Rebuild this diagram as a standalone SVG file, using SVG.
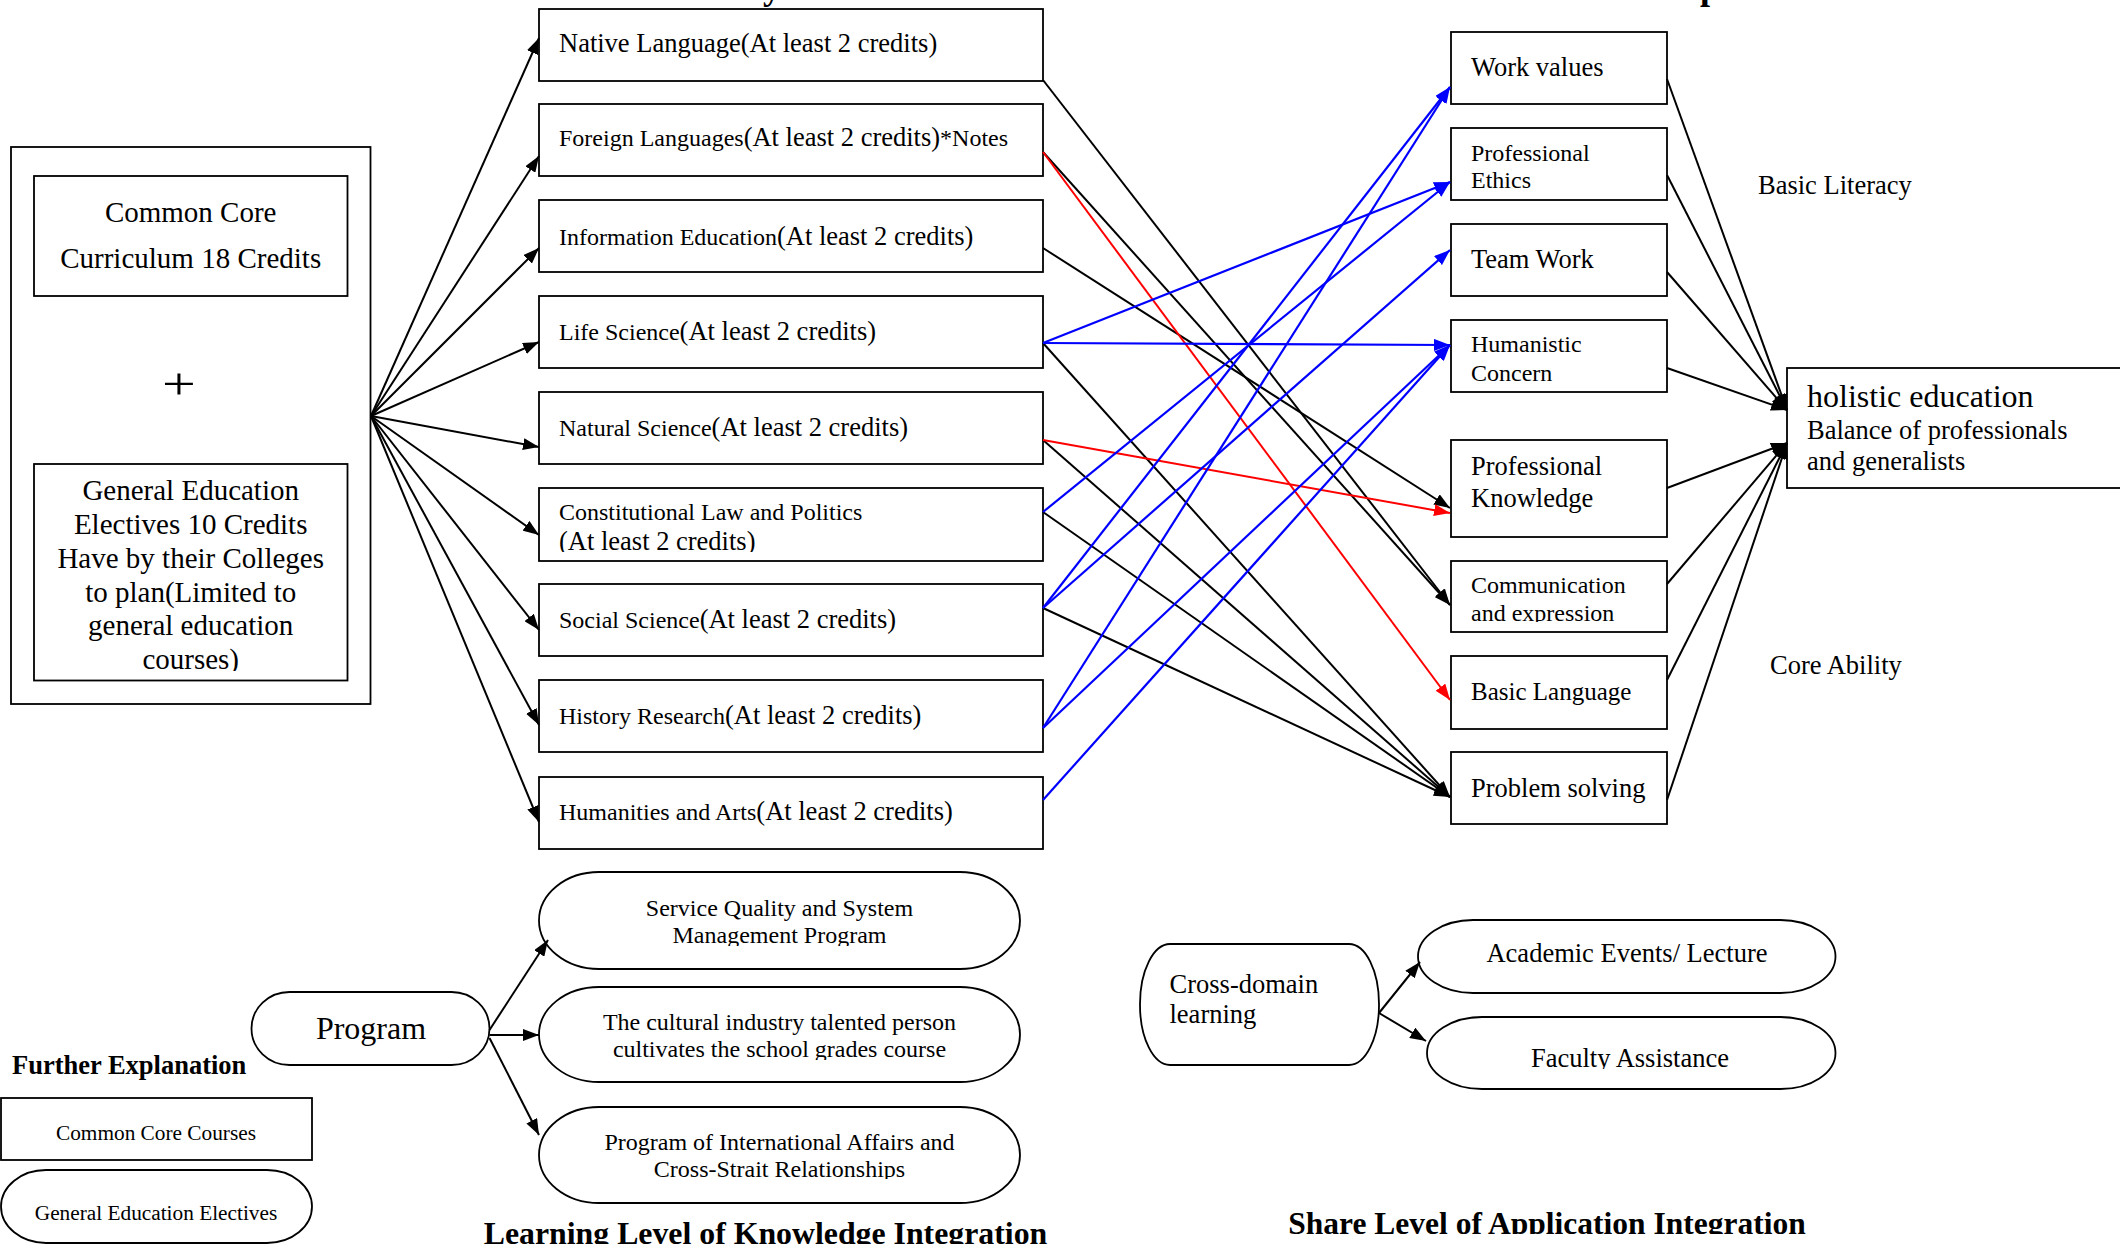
<svg xmlns="http://www.w3.org/2000/svg" width="2120" height="1244" viewBox="0 0 2120 1244">
<style>
.box{fill:#fff;stroke:#000;stroke-width:1.8}
.t{font-family:"Liberation Serif","Times New Roman",serif;fill:#000}
.b{font-weight:bold}
.s24{font-size:24px}
.s26{font-size:26.5px}
.s29{font-size:29px}
.c{text-anchor:middle}
.bk{stroke:#000;stroke-width:2;fill:none;marker-end:url(#ah)}
.bl{stroke:#0000ff;stroke-width:2.2;fill:none;marker-end:url(#ahb)}
.rd{stroke:#ff0000;stroke-width:2;fill:none;marker-end:url(#ahr)}
</style>
<defs>
<marker id="ah" markerUnits="userSpaceOnUse" markerWidth="16" markerHeight="12" refX="16" refY="6" orient="auto"><path d="M0,0 L16,6 L0,12 z" fill="#000"/></marker>
<marker id="ahb" markerUnits="userSpaceOnUse" markerWidth="16" markerHeight="12" refX="16" refY="6" orient="auto"><path d="M0,0 L16,6 L0,12 z" fill="#0000ff"/></marker>
<marker id="ahr" markerUnits="userSpaceOnUse" markerWidth="16" markerHeight="12" refX="16" refY="6" orient="auto"><path d="M0,0 L16,6 L0,12 z" fill="#ff0000"/></marker>
<clipPath id="cpConst"><rect x="540" y="488" width="503" height="64"/></clipPath>
<clipPath id="cpComm"><rect x="1452" y="561" width="214" height="61"/></clipPath>
<clipPath id="cpGen"><rect x="35" y="464" width="312" height="207"/></clipPath>
<clipPath id="cpSvc"><rect x="539" y="872" width="481" height="74"/></clipPath>
<clipPath id="cpCult"><rect x="539" y="987" width="481" height="73"/></clipPath>
<clipPath id="cpIntl"><rect x="539" y="1107" width="481" height="72"/></clipPath>
<clipPath id="cpFac"><rect x="1427" y="1017" width="408" height="52"/></clipPath>
<clipPath id="cpShare"><rect x="1200" y="1180" width="700" height="54"/></clipPath>
</defs>
<rect width="2120" height="1244" fill="#fff"/>

<g id="title-fragments">
<text class="t b" x="763" y="-1.5" font-size="36">y</text>
<text class="t b" x="1700" y="-1" font-size="36">p</text>
</g>

<g id="core-group">
<rect class="box" x="11" y="147" width="359.5" height="557"/>
<g id="common-core">
<rect class="box" x="34" y="176" width="313.5" height="120"/>
<text class="t s29 c" x="190.7" y="222">Common Core</text>
<text class="t s29 c" x="190.7" y="268">Curriculum 18 Credits</text>
</g>
<text class="t" font-size="60" transform="translate(162,399.4) scale(1,0.75)" x="0" y="0">+</text>
<g id="general-electives">
<rect class="box" x="34" y="464" width="313.5" height="216.5"/>
<g clip-path="url(#cpGen)">
<text class="t s29 c" x="190.7" y="500">General Education</text>
<text class="t s29 c" x="190.7" y="534">Electives 10 Credits</text>
<text class="t s29 c" x="190.7" y="568">Have by their Colleges</text>
<text class="t s29 c" x="190.7" y="602">to plan(Limited to</text>
<text class="t s29 c" x="190.7" y="635">general education</text>
<text class="t s29 c" x="190.7" y="669">courses)</text>
</g>
</g>
</g>

<g id="native"><rect class="box" x="539" y="9" width="504" height="72"/>
<text class="t s26" x="559" y="52">Native Language(At least 2 credits)</text></g>
<g id="foreign"><rect class="box" x="539" y="104" width="504" height="72"/>
<text class="t" x="559" y="146"><tspan class="s24">Foreign Languages</tspan><tspan class="s26">(At least 2 credits)</tspan><tspan class="s24">*Notes</tspan></text></g>
<g id="information"><rect class="box" x="539" y="200" width="504" height="72"/>
<text class="t" x="559" y="245"><tspan class="s24">Information Education</tspan><tspan class="s26">(At least 2 credits)</tspan></text></g>
<g id="life"><rect class="box" x="539" y="296" width="504" height="72"/>
<text class="t" x="559" y="340"><tspan class="s24">Life Science</tspan><tspan class="s26">(At least 2 credits)</tspan></text></g>
<g id="natural"><rect class="box" x="539" y="392" width="504" height="72"/>
<text class="t" x="559" y="436"><tspan class="s24">Natural Science</tspan><tspan class="s26">(At least 2 credits)</tspan></text></g>
<g id="constitutional"><rect class="box" x="539" y="488" width="504" height="73"/>
<g clip-path="url(#cpConst)">
<text class="t s24" x="559" y="520">Constitutional Law and Politics</text>
<text class="t s26" x="559" y="550">(At least 2 credits)</text></g></g>
<g id="social"><rect class="box" x="539" y="584" width="504" height="72"/>
<text class="t" x="559" y="628"><tspan class="s24">Social Science</tspan><tspan class="s26">(At least 2 credits)</tspan></text></g>
<g id="history"><rect class="box" x="539" y="680" width="504" height="72"/>
<text class="t" x="559" y="724"><tspan class="s24">History Research</tspan><tspan class="s26">(At least 2 credits)</tspan></text></g>
<g id="humanities"><rect class="box" x="539" y="777" width="504" height="72"/>
<text class="t" x="559" y="820"><tspan class="s24">Humanities and Arts</tspan><tspan class="s26">(At least 2 credits)</tspan></text></g>

<g id="work-values"><rect class="box" x="1451" y="32" width="216" height="72"/>
<text class="t s26" x="1471" y="76">Work values</text></g>
<g id="professional-ethics"><rect class="box" x="1451" y="128" width="216" height="72"/>
<text class="t s24" x="1471" y="161">Professional</text><text class="t s24" x="1471" y="188">Ethics</text></g>
<g id="team-work"><rect class="box" x="1451" y="224" width="216" height="72"/>
<text class="t s26" x="1471" y="268">Team Work</text></g>
<g id="humanistic"><rect class="box" x="1451" y="320" width="216" height="72"/>
<text class="t s24" x="1471" y="352">Humanistic</text><text class="t s24" x="1471" y="381">Concern</text></g>
<g id="professional-knowledge"><rect class="box" x="1451" y="440" width="216" height="97"/>
<text class="t s26" x="1471" y="475">Professional</text><text class="t s26" x="1471" y="507">Knowledge</text></g>
<g id="communication"><rect class="box" x="1451" y="561" width="216" height="71"/>
<g clip-path="url(#cpComm)"><text class="t s24" x="1471" y="593">Communication</text><text class="t s24" x="1471" y="621">and expression</text></g></g>
<g id="basic-language"><rect class="box" x="1451" y="656" width="216" height="73"/>
<text class="t" font-size="25px" x="1471" y="700">Basic Language</text></g>
<g id="problem-solving"><rect class="box" x="1451" y="752" width="216" height="72"/>
<text class="t s26" x="1471" y="797">Problem solving</text></g>

<g id="holistic"><rect class="box" x="1787" y="368" width="343" height="120"/>
<text class="t" font-size="32px" x="1807" y="407">holistic education</text>
<text class="t s26" x="1807" y="439">Balance of professionals</text>
<text class="t s26" x="1807" y="470">and generalists</text></g>

<g id="labels">
<text class="t s26" x="1758" y="194">Basic Literacy</text>
<text class="t s26" x="1770" y="674">Core Ability</text>
</g>

<g id="program"><rect class="box" x="251.5" y="992" width="238" height="73" rx="38" ry="36.5"/>
<text class="t c" font-size="32px" x="371" y="1039">Program</text></g>
<g id="service-quality"><rect class="box" x="539" y="872" width="481" height="97" rx="60" ry="48.5"/>
<g clip-path="url(#cpSvc)"><text class="t s24 c" x="779.5" y="916">Service Quality and System</text><text class="t s24 c" x="779.5" y="943">Management Program</text></g></g>
<g id="cultural-industry"><rect class="box" x="539" y="987" width="481" height="95" rx="60" ry="47.5"/>
<g clip-path="url(#cpCult)"><text class="t s24 c" x="779.5" y="1030">The cultural industry talented person</text><text class="t s24 c" x="779.5" y="1057">cultivates the school grades course</text></g></g>
<g id="international-affairs"><rect class="box" x="539" y="1107" width="481" height="96" rx="60" ry="48"/>
<g clip-path="url(#cpIntl)"><text class="t s24 c" x="779.5" y="1150">Program of International Affairs and</text><text class="t s24 c" x="779.5" y="1177">Cross-Strait Relationships</text></g></g>

<g id="cross-domain"><rect class="box" x="1140" y="944" width="239" height="121" rx="30" ry="60"/>
<text class="t s26" x="1169.5" y="993">Cross-domain</text><text class="t s26" x="1169.5" y="1023">learning</text></g>
<g id="academic-events"><rect class="box" x="1418" y="920" width="417.5" height="73" rx="55" ry="36.5"/>
<text class="t s26 c" x="1627" y="962">Academic Events/ Lecture</text></g>
<g id="faculty-assistance"><rect class="box" x="1427" y="1017" width="408.5" height="72" rx="55" ry="36"/>
<g clip-path="url(#cpFac)"><text class="t s26 c" x="1630" y="1067">Faculty Assistance</text></g></g>

<g id="legend">
<text class="t b s26" x="12" y="1074">Further Explanation</text>
<g id="legend-core"><rect class="box" x="1" y="1098" width="311" height="62"/>
<text class="t c" font-size="21.3px" x="156" y="1140">Common Core Courses</text></g>
<g id="legend-electives"><rect class="box" x="1" y="1170" width="311" height="73" rx="45" ry="36.5"/>
<text class="t c" font-size="21.3px" x="156" y="1220">General Education Electives</text></g>
</g>

<g id="section-titles">
<text class="t b c" font-size="31.8px" x="765.5" y="1244">Learning Level of Knowledge Integration</text>
<g clip-path="url(#cpShare)"><text class="t b c" font-size="31.5px" x="1547" y="1234">Share Level of Application Integration</text></g>
</g>

<g id="connectors">
<line class="bk" x1="371" y1="416" x2="539" y2="38"/>
<line class="bk" x1="371" y1="416" x2="539" y2="156"/>
<line class="bk" x1="371" y1="416" x2="539" y2="248"/>
<line class="bk" x1="371" y1="416" x2="539" y2="342"/>
<line class="bk" x1="371" y1="416" x2="539" y2="447"/>
<line class="bk" x1="371" y1="416" x2="539" y2="535"/>
<line class="bk" x1="371" y1="416" x2="539" y2="630"/>
<line class="bk" x1="371" y1="416" x2="539" y2="725"/>
<line class="bk" x1="371" y1="416" x2="539" y2="822"/>

<line class="bk" x1="1043" y1="80" x2="1450" y2="605"/>
<line class="bk" x1="1043" y1="152" x2="1450" y2="605"/>
<line class="bk" x1="1043" y1="248" x2="1450" y2="508"/>
<line class="bk" x1="1043" y1="343" x2="1450" y2="797"/>
<line class="bk" x1="1043" y1="440" x2="1450" y2="797"/>
<line class="bk" x1="1043" y1="512" x2="1450" y2="797"/>
<line class="bk" x1="1043" y1="608" x2="1450" y2="797"/>

<line class="rd" x1="1043" y1="152" x2="1450" y2="700"/>
<line class="rd" x1="1043" y1="440" x2="1450" y2="513"/>

<line class="bl" x1="1043" y1="343" x2="1450" y2="182"/>
<line class="bl" x1="1043" y1="343" x2="1450" y2="345"/>
<line class="bl" x1="1043" y1="512" x2="1450" y2="182"/>
<line class="bl" x1="1043" y1="608" x2="1450" y2="87"/>
<line class="bl" x1="1043" y1="608" x2="1450" y2="250"/>
<line class="bl" x1="1043" y1="728" x2="1450" y2="87"/>
<line class="bl" x1="1043" y1="728" x2="1450" y2="345"/>
<line class="bl" x1="1043" y1="800" x2="1450" y2="345"/>

<line class="bk" x1="1667" y1="79" x2="1787" y2="410"/>
<line class="bk" x1="1667" y1="175" x2="1787" y2="410"/>
<line class="bk" x1="1667" y1="272" x2="1787" y2="410"/>
<line class="bk" x1="1667" y1="368" x2="1787" y2="410"/>
<line class="bk" x1="1667" y1="488" x2="1787" y2="443"/>
<line class="bk" x1="1667" y1="584" x2="1787" y2="443"/>
<line class="bk" x1="1667" y1="680" x2="1787" y2="443"/>
<line class="bk" x1="1667" y1="800" x2="1787" y2="443"/>

<line class="bk" x1="489.5" y1="1030" x2="548" y2="940"/>
<line class="bk" x1="489.5" y1="1035" x2="539" y2="1035"/>
<line class="bk" x1="489.5" y1="1038" x2="539" y2="1135"/>

<line class="bk" x1="1379" y1="1013" x2="1420" y2="962"/>
<line class="bk" x1="1379" y1="1013" x2="1426" y2="1041"/>
</g>
</svg>
